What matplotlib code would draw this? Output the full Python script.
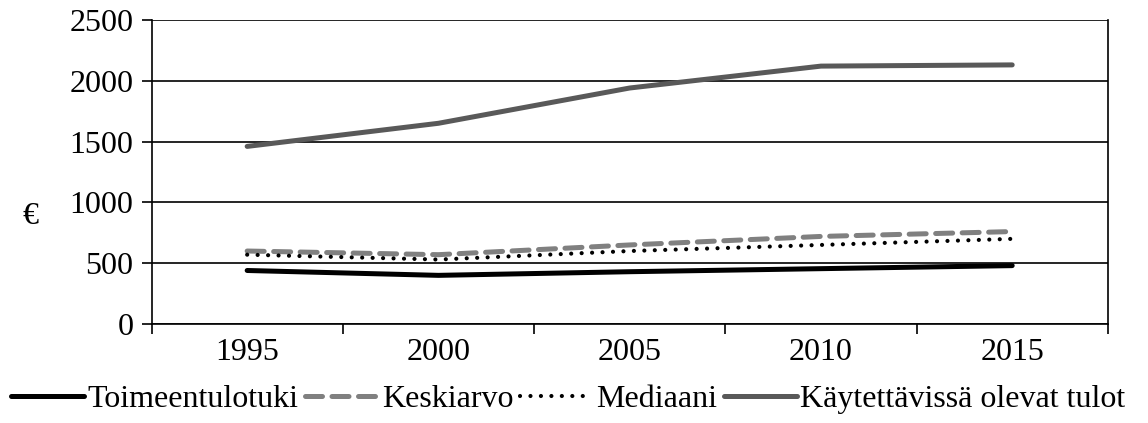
import numpy as np
import matplotlib
matplotlib.use("Agg")
import matplotlib.pyplot as plt

plt.rcParams['font.family'] = ['Liberation Serif', 'DejaVu Serif']

years = ['1995', '2000', '2005', '2010', '2015']
toimeentulotuki = [440, 400, 430, 455, 480]
keskiarvo = [600, 570, 650, 720, 760]
mediaani = [570, 530, 600, 650, 700]
kaytettavissa = [1460, 1650, 1940, 2120, 2130]

fig = plt.figure(figsize=(11.48, 4.23), dpi=100)
ax = fig.add_axes([0.132, 0.234, 0.833, 0.719])

x = np.arange(len(years))
ax.plot(x, toimeentulotuki, color='black', lw=3.6, label='Toimeentulotuki', solid_capstyle='round')
ax.plot(x, keskiarvo, color='#808080', lw=3.6, linestyle=(0, (3.4, 1.9)), label='Keskiarvo', dash_capstyle='round')
ax.plot(x, mediaani, color='black', lw=3.0, linestyle=(0, (0.01, 2.5)), label='Mediaani', dash_capstyle='round')
ax.plot(x, kaytettavissa, color='#595959', lw=3.6, label='Käytettävissä olevat tulot', solid_capstyle='round')

ax.set_xlim(-0.5, len(years) - 0.5)
ax.set_ylim(0, 2500)
ax.set_yticks(np.arange(0, 2501, 500))
ax.set_xticks(x)
ax.set_xticklabels(years)
ax.set_xticks(np.arange(-0.5, len(years), 1), minor=True)
ax.tick_params(axis='x', which='major', length=0, pad=10, labelsize=23)
ax.tick_params(axis='x', which='minor', length=7, width=1.2, direction='out')
ax.tick_params(axis='y', length=7, width=1.2, direction='out', labelsize=23, pad=6)
ax.yaxis.grid(True, color='black', lw=1.2)
ax.set_axisbelow(True)
for s in ax.spines.values():
    s.set_linewidth(1.2)
ax.spines['top'].set_visible(False)

fig.text(0.027, 0.487, '€', fontsize=23, ha='center', va='center')

fig.legend(loc='lower center', bbox_to_anchor=(0.495, -0.025), ncol=4, frameon=False,
           fontsize=23, handlelength=2.3, handletextpad=0.1, columnspacing=0.2,
           borderaxespad=0.2)

fig.savefig('out.png', dpi=100)
